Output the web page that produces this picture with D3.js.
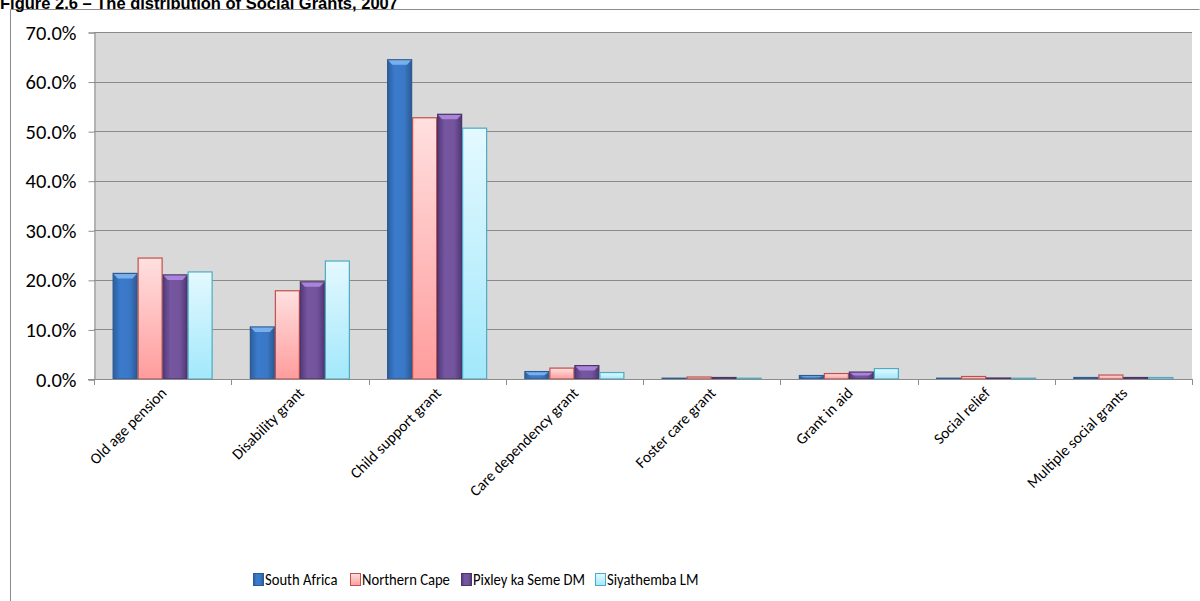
<!DOCTYPE html>
<html><head><meta charset="utf-8">
<script src="https://cdn.jsdelivr.net/npm/d3@7/dist/d3.min.js"></script>
<style>body{margin:0;background:#fff;}svg{display:block;}</style>
</head><body>
<script>
const categories = ["Old age pension","Disability grant","Child support grant","Care dependency grant","Foster care grant","Grant in aid","Social relief","Multiple social grants"];
const seriesNames = ["South Africa","Northern Cape","Pixley ka Seme DM","Siyathemba LM"];
const southAfrica = [21.3,10.5,64.4,1.5,0.1,0.7,0.1,0.3];
const northernCape = [24.4,17.8,52.7,2.2,0.4,1.1,0.5,0.8];
const pixley = [21.0,19.6,53.4,2.7,0.3,1.4,0.2,0.3];
const siyathemba = [21.6,23.8,50.6,1.3,0.0,2.1,0.0,0.3];
const yTicks = [0,10,20,30,40,50,60,70];
const seriesValues = [southAfrica, northernCape, pixley, siyathemba];

(function(){
const W=1200,H=601;
const svg=d3.select("body").append("svg").attr("width",W).attr("height",H);
const defs=svg.append("defs");
const font="Carlito, Lato, 'Liberation Sans', sans-serif";

function hGrad(id, stops){
  const g=defs.append("linearGradient").attr("id",id).attr("x1","0").attr("x2","1").attr("y1","0").attr("y2","0");
  stops.forEach(s=>g.append("stop").attr("offset",s[0]).attr("stop-color",s[1]));
}
function vGrad(id, stops){
  const g=defs.append("linearGradient").attr("id",id).attr("x1","0").attr("x2","0").attr("y1","0").attr("y2","1");
  stops.forEach(s=>g.append("stop").attr("offset",s[0]).attr("stop-color",s[1]));
}
hGrad("gSA",[[0,"#2d5e9e"],[0.3,"#3b7bcc"],[0.7,"#3a78c6"],[1,"#2a5a96"]]);
vGrad("gNC",[[0,"#ffe0e0"],[1,"#ff9c9c"]]);
hGrad("gPX",[[0,"#55397a"],[0.3,"#7556a0"],[0.7,"#73549c"],[1,"#523676"]]);
vGrad("gSY",[[0,"#e4f9ff"],[1,"#a2e8fb"]]);
const fills=["url(#gSA)","url(#gNC)","url(#gPX)","url(#gSY)"];
const strokes=["#2c5a92","#c0504d","#4a3468","#4bacc6"];
const bevels=["#7fb6f0",null,"#b08ae0",null];

svg.append("path").attr("d","M10.5,601 L10.5,9.5 L1199.5,9.5").attr("fill","none").attr("stroke","#8c8c8c");
svg.append("text").attr("x",0).attr("y",9).attr("font-family","Arial, 'Liberation Sans', sans-serif")
  .attr("font-weight","bold").attr("font-size",16.5).attr("fill","#000")
  .text("Figure 2.6 \u2013  The distribution of Social Grants, 2007");

const pLeft=94,pRight=1192,pTop=32,pBottom=379;
const y=d3.scaleLinear().domain([0,70]).range([pBottom,pTop]);
const x0=d3.scaleBand().domain(categories).range([pLeft,pRight]).padding(0);
const x1=d3.scaleBand().domain(seriesNames).range([0,x0.bandwidth()]).paddingInner(0).paddingOuter(0.745);

svg.append("rect").attr("x",pLeft).attr("y",pTop).attr("width",pRight-pLeft).attr("height",pBottom-pTop).attr("fill","#d9d9d9");

svg.append("g").selectAll("line").data(yTicks.filter(d=>d>0)).join("line")
  .attr("x1",pLeft).attr("x2",pRight).attr("y1",d=>Math.round(y(d))+0.5).attr("y2",d=>Math.round(y(d))+0.5)
  .attr("stroke","#8a8a8a").attr("stroke-width",1);

const yAxis=d3.axisLeft(y).tickValues(yTicks).tickFormat(d=>d.toFixed(1)+"%").tickSize(6).tickPadding(12);
const ga=svg.append("g").attr("transform",`translate(${pLeft+0.5},0.5)`).call(yAxis);
ga.select(".domain").attr("stroke","#8c8c8c");
ga.selectAll(".tick line").attr("stroke","#8c8c8c");
ga.selectAll("text").attr("font-family",font).attr("font-size",20.5).attr("fill","#000").attr("x",-18);

const groups=svg.append("g").selectAll("g").data(categories).join("g")
  .attr("transform",d=>`translate(${x0(d)},0)`);
groups.each(function(cat,ci){
  const g=d3.select(this);
  seriesNames.forEach((s,si)=>{
    const v=seriesValues[si][ci];
    const bx=x1(s), bw=x1.bandwidth();
    const by=y(v), bh=Math.max(pBottom-by,0.8);
    const ytop=pBottom-bh;
    g.append("rect").attr("x",bx+0.5).attr("y",ytop).attr("width",bw-1).attr("height",bh)
      .attr("fill",fills[si]).attr("stroke",strokes[si]).attr("stroke-width",1.2);
    if(bevels[si] && bh>3){
      const bv=Math.min(5,bh/2);
      g.append("path").attr("d",`M${bx+1},${ytop+0.6} L${bx+bw-1},${ytop+0.6} L${bx+bw-5},${ytop+bv} L${bx+5},${ytop+bv} Z`)
        .attr("fill",bevels[si]).attr("opacity",0.9);
    }
  });
});

svg.append("line").attr("x1",pLeft-6).attr("x2",pRight).attr("y1",pBottom+0.5).attr("y2",pBottom+0.5).attr("stroke","#8c8c8c");
const bounds=categories.map(c=>x0(c)).concat([pRight]);
svg.append("g").selectAll("line").data(bounds).join("line")
  .attr("x1",d=>Math.round(d)+0.5).attr("x2",d=>Math.round(d)+0.5).attr("y1",pBottom).attr("y2",pBottom+6).attr("stroke","#8c8c8c");

svg.append("g").selectAll("text").data(categories).join("text")
  .attr("transform",d=>`translate(${x0(d)+x0.bandwidth()/2+5},${pBottom+15}) rotate(-45)`)
  .attr("text-anchor","end").attr("font-family",font).attr("font-size",15.5).attr("fill","#000")
  .text(d=>d);

const legX=[253,350,461,595];
const leg=svg.append("g");
seriesNames.forEach((s,i)=>{
  leg.append("rect").attr("x",legX[i]+0.5).attr("y",573.5).attr("width",10).attr("height",12)
    .attr("fill",fills[i]).attr("stroke",strokes[i]);
  leg.append("text").attr("transform",`translate(${legX[i]+12},585) scale(0.86,1)`)
    .attr("font-family",font).attr("font-size",17).attr("fill","#000").text(s);
});
})();
</script>
</body></html>
